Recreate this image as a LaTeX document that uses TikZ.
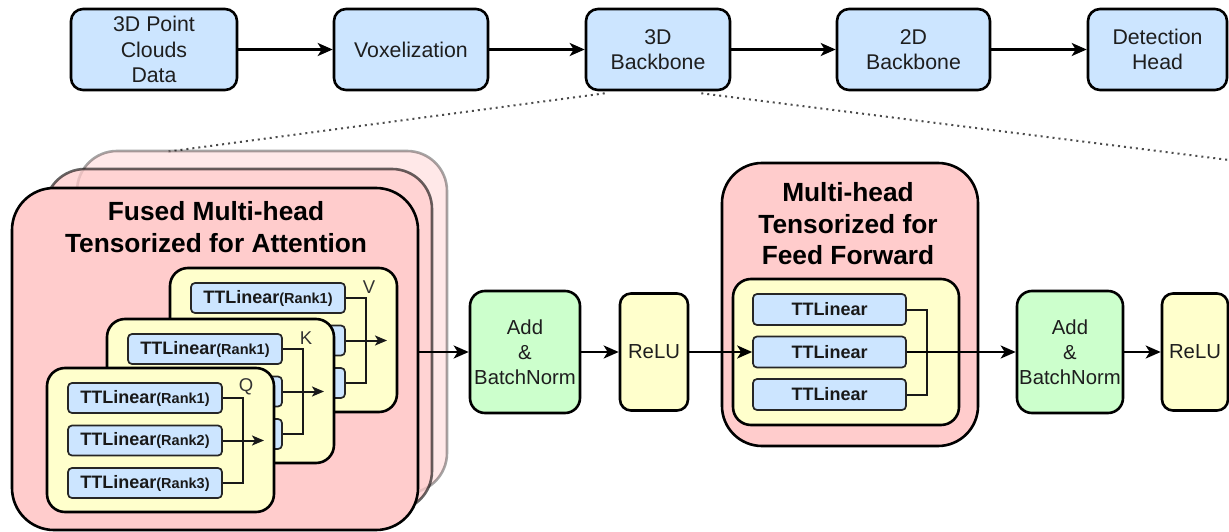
\documentclass[tikz,border=0pt]{standalone}
\usepackage{fontspec}
\setmainfont{Liberation Sans}
\usetikzlibrary{arrows.meta}
\definecolor{cblue}{HTML}{CCE5FF}
\definecolor{cpink}{HTML}{FFCCCC}
\definecolor{cyel}{HTML}{FFFFCC}
\definecolor{cgreen}{HTML}{CCFFCC}
\definecolor{ctxt}{HTML}{1E1E1E}
\newcommand{\fsz}[2]{\fontsize{#1}{#2}\selectfont}
\newcommand{\rk}[1]{{\fsz{14.5}{17}#1}}
\newcommand{\qkvgrp}[7]{%
\begin{scope}[shift={(#2,#3)}]
 \node[ybox, minimum width=227pt, minimum height=144pt] (#1box) at (113.5,72) {};
 \node[ttbox] (#1a) at (98,30) {#5};
 \node[ttbox] (#1b) at (98,72.5) {#6};
 \node[ttbox] (#1c) at (98,115) {#7};
 \node[qlbl] (#1lab) at (199,19) {#4};
 \coordinate (#1bus) at (196,30);
 \coordinate (#1tip) at (217,72.5);
 \draw[inconn] (#1a.east) -| (#1bus) |- (#1c.east);
 \draw[inconn,-{Stealth[length=12pt,width=10pt,inset=3pt]}] (#1b.east) -- (#1tip);
\end{scope}}
\begin{document}
\begin{tikzpicture}[x=1pt,y=-1pt,
  box/.style={draw=black, line width=2.6pt, align=center, inner sep=0pt, text=ctxt, font=\fsz{21.3}{25.5}},
  topbox/.style={box, fill=cblue, rounded corners=12pt, minimum height=81pt},
  ybox/.style={draw=black, line width=2.6pt, fill=cyel, rounded corners=18pt, inner sep=0pt},
  ttbox/.style={draw=black!85, line width=1.7pt, fill=cblue, rounded corners=4pt, inner sep=0pt,
     minimum width=154pt, minimum height=30pt, font=\bfseries\fsz{18}{20}, text=black!90},
  qlbl/.style={inner sep=0pt, font=\fsz{18.5}{20}, text=black!80},
  layer/.style={draw=black, line width=2.6pt, rounded corners=42pt, fill=cpink, minimum width=406pt, minimum height=342pt, inner sep=0pt},
  title/.style={align=center, inner sep=0pt, font=\bfseries\fsz{26.3}{32}, text=black},
  arr/.style={line width=2.4pt, -{Stealth[length=15pt,width=13pt,inset=4pt]}},
  inconn/.style={line width=2pt, draw=black!90},
  dotline/.style={line width=2pt, draw=black!70, dash pattern=on 2pt off 4pt}
]
\useasboundingbox (0,0) rectangle (1229,532);

% dotted zoom lines
\coordinate (dl) at (165,152);
\coordinate (dr) at (1229,160);

% top row
\node[topbox, minimum width=166pt] (b1) at (154,49.5) {3D Point\\Clouds\\Data};
\node[topbox, minimum width=154pt] (vox) at (411,49.5) {Voxelization};
\node[topbox, minimum width=144pt] (bb3) at (658,49.5) {3D\\Backbone};
\node[topbox, minimum width=153pt] (bb2) at (913.5,49.5) {2D\\Backbone};
\node[topbox, minimum width=139pt] (dh) at (1157.5,49.5) {Detection\\Head};

\begin{scope}[on background layer/.try]
\end{scope}
\draw[dotline] ([xshift=20pt,yshift=-2pt]bb3.south west) -- (dl);
\draw[dotline] ([xshift=-30pt,yshift=-2pt]bb3.south east) -- (dr);

\draw[arr] (b1) -- (vox);
\draw[arr] (vox) -- (bb3);
\draw[arr] (bb3) -- (bb2);
\draw[arr] (bb2) -- (dh);

% fused attention stack
\node[layer, minimum width=370pt, fill opacity=0.45, draw opacity=0.35, rounded corners=40pt] (L3) at (262,322) {};
\node[layer, minimum width=387pt, fill opacity=0.75, draw opacity=0.6, rounded corners=40pt] (L2) at (238.5,340) {};
\node[layer] (L1) at (215,359) {};
\node[title] (t1) at (216,227) {Fused Multi-head\\Tensorized for Attention};

\qkvgrp{v}{170}{268}{V}{TTLinear\rk{(Rank1)}}{}{}
\qkvgrp{k}{107}{319}{K}{TTLinear\rk{(Rank1)}}{}{}
\qkvgrp{q}{47}{368}{Q}{TTLinear\rk{(Rank1)}}{TTLinear\rk{(Rank2)}}{TTLinear\rk{(Rank3)}}

% middle blocks
\node[box, fill=cgreen, rounded corners=15pt, minimum width=110pt, minimum height=122pt, font=\fsz{20.3}{25}] (add1) at (525,352) {Add\\\&\\BatchNorm};
\node[box, fill=cyel, rounded corners=11pt, minimum width=68pt, minimum height=117pt, font=\fsz{20.3}{25}] (relu1) at (654,352) {ReLU};

% multi-head feed forward
\node[layer, minimum width=256pt, minimum height=283pt, rounded corners=40pt] (mh) at (850,304.5) {};
\node[title, font=\bfseries\fsz{26.3}{31.5}] (t2) at (848,224) {Multi-head\\Tensorized for\\Feed Forward};
\node[ybox, minimum width=226pt, minimum height=146pt] (mhy) at (846,352) {};
\node[ttbox, minimum width=153pt, minimum height=31pt] (m1) at (829.5,309.5) {TTLinear};
\node[ttbox, minimum width=153pt, minimum height=31pt] (m2) at (829.5,352) {TTLinear};
\node[ttbox, minimum width=153pt, minimum height=31pt] (m3) at (829.5,394.5) {TTLinear};
\coordinate (mbus) at (927,309.5);
\draw[inconn] (m1.east) -| (mbus) |- (m3.east);

\node[box, fill=cgreen, rounded corners=15pt, minimum width=106pt, minimum height=122pt, font=\fsz{20.3}{25}] (add2) at (1070,352) {Add\\\&\\BatchNorm};
\node[box, fill=cyel, rounded corners=11pt, minimum width=66pt, minimum height=117pt, font=\fsz{20.3}{25}] (relu2) at (1195,352) {ReLU};

% main flow
\draw[arr] (add1.west -| L1.east) -- (add1.west);
\draw[arr] (add1) -- (relu1);
\draw[arr] (relu1) -- (m2);
\draw[arr] (m2) -- (add2);
\draw[arr] (add2) -- (relu2);
\end{tikzpicture}
\end{document}
